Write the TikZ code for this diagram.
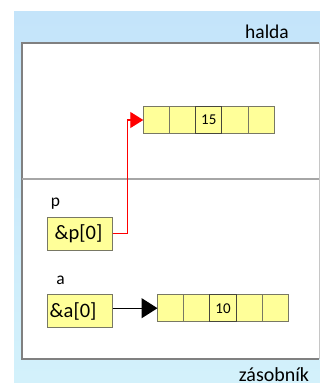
\documentclass[tikz,border=0pt]{standalone}
\usepackage{fontspec}
\setmainfont{Carlito}
\usetikzlibrary{arrows.meta,calc}
\definecolor{skytop}{RGB}{196,228,250}
\definecolor{skybot}{RGB}{211,241,251}
\definecolor{cellfill}{RGB}{255,255,153}
\definecolor{celledge}{RGB}{120,120,100}
\definecolor{markedge}{RGB}{70,70,60}
\definecolor{frameedge}{RGB}{128,128,128}
\definecolor{divider}{RGB}{166,166,166}
\definecolor{refred}{RGB}{255,0,0}
\begin{document}
\begin{tikzpicture}[x=1pt,y=-1pt,
  cell/.style={draw=celledge, fill=cellfill, line width=1pt, minimum width=26.2pt,
    minimum height=26.6pt, inner sep=0pt, outer sep=0pt,
    font=\fontsize{15}{15}\selectfont},
  markcell/.style={cell, draw=markedge},
  ptrbox/.style={draw=celledge, fill=cellfill, line width=1pt, minimum height=32.7pt,
    align=left, inner ysep=0pt, outer sep=0pt,
    font=\fontsize{20.5}{20.5}\selectfont},
  region/.style={inner sep=0pt, anchor=base},
  varname/.style={font=\fontsize{17.5}{17.5}\selectfont, inner sep=0pt},
]
% page and shaded backdrop
\fill[white] (0,0) rectangle (320,383);
\shade[top color=skytop, bottom color=skybot] (14,11) rectangle (320,383);
% memory frame split into heap and stack
\fill[white] (22,43) rectangle (319,359);
\draw[frameedge, line width=1.6pt] (319,43) -- (22,43) -- (22,359) -- (319,359);
\draw[gray!45, line width=1pt] (319,43) -- (319,359);
\draw[divider, line width=1.6pt] (22,179) -- (319,179);
\node[region, font=\fontsize{19.5}{19.5}\selectfont] (heaplbl) at (267,38.8) {halda};
\node[region, font=\fontsize{20}{20}\selectfont] (stacklbl) at (274,381.5) {zásobník};

% heap array
\node[cell, anchor=west] (h1) at (143.3,120) {};
\node[cell, anchor=west] (h2) at (h1.east) {};
\node[cell, anchor=west] (h3) at (h2.east) {};
\node[cell, anchor=west] (h4) at (h3.east) {};
\node[cell, anchor=west] (h5) at (h4.east) {};
\node[markcell] (h3m) at (h3) {15};

% stack array
\node[cell, anchor=west] (a1) at (157.5,308.2) {};
\node[cell, anchor=west] (a2) at (a1.east) {};
\node[cell, anchor=west] (a3) at (a2.east) {};
\node[cell, anchor=west] (a4) at (a3.east) {};
\node[cell, anchor=west] (a5) at (a4.east) {};
\node[markcell] (a3m) at (a3) {10};

% pointer variables
\node[varname] (pname) at (55.5,204) {p};
\node[ptrbox, inner xsep=7pt, text width=51pt, anchor=west] (pbox) at (47.7,233.7) {\&p[0]};
\node[varname] (aname) at (60.5,280) {a};
\node[ptrbox, inner xsep=2pt, text width=61pt, anchor=west] (abox) at (47.7,311.2) {\&a[0]};

% references
\draw[color=refred, line width=1.2pt, -{Triangle[length=13pt, width=16pt]}]
  (pbox.east) -- ++(14.6,0) |- (h1.west);
\draw[black, line width=1.4pt, -{Triangle[length=16pt, width=20pt]}]
  (a1.west -| abox.east) -- (a1.west);
\end{tikzpicture}
\end{document}
